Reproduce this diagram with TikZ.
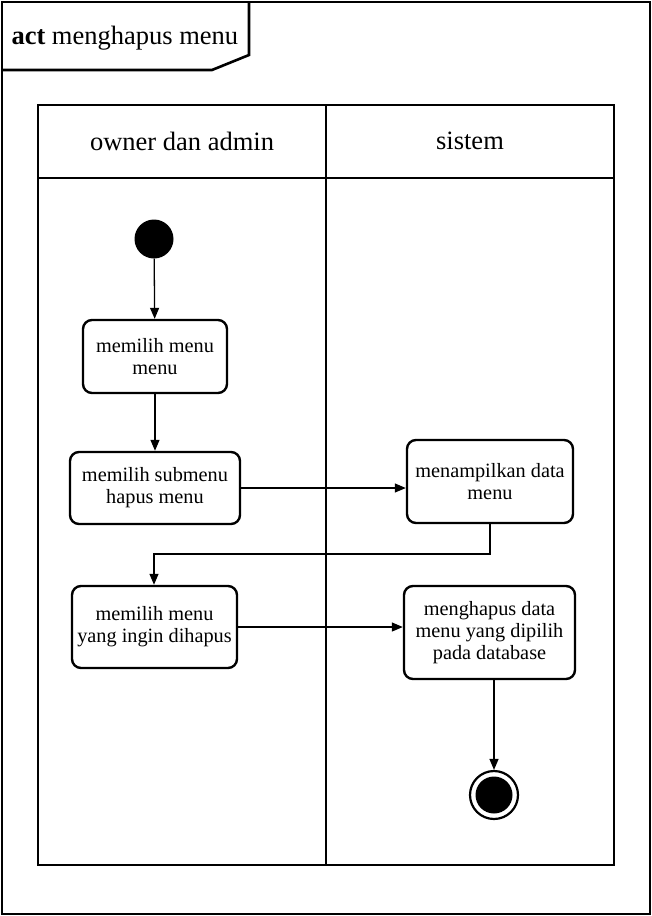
\documentclass[tikz,border=0pt]{standalone}
\usepackage{fontspec}
\setmainfont{Liberation Serif}
\usetikzlibrary{arrows.meta}
\begin{document}
\begin{tikzpicture}[x=1pt,y=-1pt,
  frameline/.style={line width=2.6pt},
  actbox/.style={draw,line width=2.4pt,rounded corners=9pt,align=center,
    font=\fontsize{20.3}{22}\selectfont,inner sep=0pt},
  flow/.style={line width=1.3pt,-{Triangle[length=11pt,width=9pt]}},
  lanetext/.style={font=\fontsize{26.5}{28}\selectfont}]
\useasboundingbox (0,0) rectangle (652,916);
% outer frame
\draw[frameline] (2,2) rectangle (650,914);
\draw[frameline] (2,70) -- (212,70) -- (249,55) -- (249,2);
\node[font=\fontsize{26.5}{28}\selectfont,anchor=west] (title) at (8,38) {\textbf{act} menghapus menu};
% swimlanes
\draw[frameline] (38,105) rectangle (614,865);
\draw[frameline] (38,178) -- (614,178);
\draw[frameline] (326,105) -- (326,865);
\node[lanetext] (lane1) at (182,141) {owner dan admin};
\node[lanetext] (lane2) at (470,141) {sistem};
% nodes
\node[circle,fill=black,minimum size=39pt,inner sep=0pt] (start) at (154,239) {};
\node[actbox,minimum width=144pt,minimum height=73pt] (n1) at (155,356.5) {memilih menu\\menu};
\node[actbox,minimum width=170pt,minimum height=72pt] (n2) at (155,488) {memilih submenu\\hapus menu};
\node[actbox,minimum width=166pt,minimum height=83pt] (n3) at (490,481.5) {menampilkan data\\menu};
\node[actbox,minimum width=165pt,minimum height=82pt] (n4) at (154.5,627) {memilih menu\\yang ingin dihapus};
\node[actbox,minimum width=171pt,minimum height=93pt] (n5) at (489.5,632.5) {menghapus data\\menu yang dipilih\\pada database};
\node[circle,draw,line width=2.2pt,minimum size=48pt,inner sep=0pt] (end) at (494,795) {};
\node[circle,fill=black,minimum size=37pt,inner sep=0pt] (endin) at (end.center) {};
% connectors
\draw[flow] (start) -- (n1);
\draw[flow] (n1) -- (n2);
\draw[flow] (n2.east) -- (n3.west |- n2.east);
\coordinate (b1) at (490,554);
\coordinate (b2) at (154,554);
\draw[flow] (n3.south) -- (b1) -- (b2) -- (n4.north -| b2);
\draw[flow] (n4.east) -- (n5.west |- n4.east);
\draw[flow] (n5.south -| end) -- (end.north);
\end{tikzpicture}
\end{document}
